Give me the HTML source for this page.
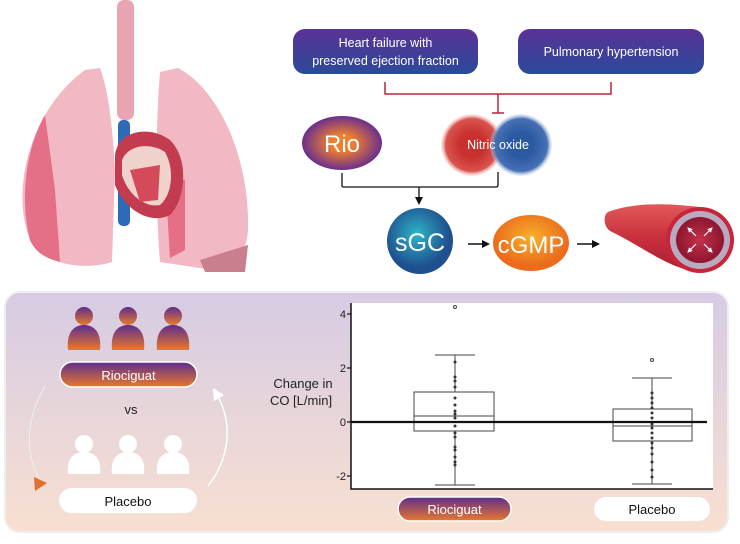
<!DOCTYPE html>
<html><head><meta charset="utf-8"><style>
body{margin:0;width:740px;height:539px;background:#fff;overflow:hidden;font-family:"Liberation Sans","DejaVu Sans",sans-serif}
</style></head><body>
<svg width="740" height="539" viewBox="0 0 740 539" xmlns="http://www.w3.org/2000/svg">
<defs>
<linearGradient id="panel" x1="0" y1="0" x2="0" y2="1"><stop offset="0" stop-color="#d6cbe4"/><stop offset="1" stop-color="#f8dfd0"/></linearGradient>
<linearGradient id="navy" x1="0" y1="0" x2="0" y2="1"><stop offset="0" stop-color="#5a3296"/><stop offset="1" stop-color="#2a4a9a"/></linearGradient>
<linearGradient id="po" x1="0" y1="0" x2="0" y2="1"><stop offset="0" stop-color="#5e2d8c"/><stop offset="1" stop-color="#e8792e"/></linearGradient>
<radialGradient id="rio"><stop offset="0.3" stop-color="#ee7f2e"/><stop offset="1" stop-color="#6b2f8e"/></radialGradient>
<radialGradient id="red"><stop offset="0.4" stop-color="#c8312e"/><stop offset="0.85" stop-color="#d9534e"/><stop offset="1" stop-color="#f3c7c2" stop-opacity="0.3"/></radialGradient>
<radialGradient id="blue"><stop offset="0.4" stop-color="#2c5aa2"/><stop offset="0.85" stop-color="#4670b4"/><stop offset="1" stop-color="#c6d3ea" stop-opacity="0.3"/></radialGradient>
<radialGradient id="sgc" cx="0.45" cy="0.4"><stop offset="0" stop-color="#2fb4c8"/><stop offset="1" stop-color="#1e4f8e"/></radialGradient>
<radialGradient id="cgmp" cx="0.5" cy="0.4"><stop offset="0" stop-color="#f7b12b"/><stop offset="1" stop-color="#ec6b1c"/></radialGradient>
<radialGradient id="lumen"><stop offset="0" stop-color="#c4314a"/><stop offset="1" stop-color="#8d1530"/></radialGradient>
<linearGradient id="tube" x1="0" y1="0" x2="0" y2="1"><stop offset="0" stop-color="#e05a5a"/><stop offset="0.5" stop-color="#c82f3c"/><stop offset="1" stop-color="#a81f30"/></linearGradient>
<marker id="ah" markerWidth="8" markerHeight="8" refX="6" refY="4" orient="auto" markerUnits="userSpaceOnUse"><path d="M0,0 L8,4 L0,8z" fill="#111"/></marker>
<marker id="sw" markerWidth="5" markerHeight="5" refX="4" refY="2.5" orient="auto" markerUnits="userSpaceOnUse"><path d="M0,0 L5,2.5 L0,5z" fill="#fff"/></marker>
<marker id="wh" markerWidth="12" markerHeight="12" refX="6" refY="6" orient="auto" markerUnits="userSpaceOnUse"><path d="M0,0 L12,6 L0,12z" fill="#fff"/></marker>
</defs>

<!-- lungs -->
<g>
<rect x="117" y="0" width="17" height="120" rx="7" fill="#eaa3b0"/>
<path d="M30,240 C10,190 30,110 85,70 L100,68 C108,90 112,120 115,170 L112,262 C80,272 40,262 30,240z" fill="#f2b8c4"/>
<path d="M30,240 C20,200 25,150 45,115 L55,190 L60,262 C45,258 35,252 30,240z" fill="#e56f86"/>
<path d="M160,72 L178,68 C220,90 250,160 248,230 C246,265 220,272 200,268 L160,262 C155,200 156,120 160,72z" fill="#f2b8c4"/>
<path d="M165,175 L185,180 L185,250 L170,258z" fill="#e56f86"/>
<path d="M200,260 L248,245 L245,272 L205,272z" fill="#c97f8e"/>
<rect x="118" y="120" width="12" height="106" rx="5" fill="#2d6bb8"/>
<path d="M115,155 C118,130 150,125 170,140 C190,160 185,200 170,215 C150,225 125,210 115,185z" fill="#c33b4e"/>
<path d="M122,160 C128,145 150,142 165,152 C175,170 172,195 160,205 C145,208 128,195 122,175z" fill="#f0d2cd"/>
<path d="M130,170 L160,165 L158,200 L140,202z" fill="#d44a5b"/>
</g>

<!-- top boxes -->
<rect x="293" y="29" width="185" height="45" rx="12" fill="url(#navy)"/>
<text x="385.5" y="47" font-size="12.5" fill="#fff" text-anchor="middle">Heart failure with</text>
<text x="385.5" y="65" font-size="12.5" fill="#fff" text-anchor="middle">preserved ejection fraction</text>
<rect x="518" y="29" width="186" height="45" rx="12" fill="url(#navy)"/>
<text x="611" y="56" font-size="12.5" fill="#fff" text-anchor="middle">Pulmonary hypertension</text>
<path d="M385,82 V94 H611 V82 M498,94 V113 M492,113 H504" fill="none" stroke="#b52a36" stroke-width="1.5"/>

<ellipse cx="342" cy="143" rx="40" ry="27" fill="url(#rio)"/>
<text x="342" y="152" font-size="24" fill="#fff" text-anchor="middle">Rio</text>
<circle cx="472" cy="145" r="31" fill="url(#red)"/>
<circle cx="521" cy="145" r="31" fill="url(#blue)"/>
<text x="498" y="149" font-size="12.5" fill="#fff" text-anchor="middle">Nitric oxide</text>
<path d="M342,173 V186 Q342,187 344,187 H496 Q498,187 498,185 V172 M419,187 V203" fill="none" stroke="#111" stroke-width="1.3" marker-end="url(#ah)"/>

<circle cx="420" cy="241" r="33" fill="url(#sgc)"/>
<text x="420" y="251" font-size="25" fill="#fff" text-anchor="middle">sGC</text>
<line x1="468" y1="244" x2="488" y2="244" stroke="#111" stroke-width="1.5" marker-end="url(#ah)"/>
<ellipse cx="531" cy="243" rx="38" ry="28" fill="url(#cgmp)"/>
<text x="531" y="253" font-size="24" fill="#fff" text-anchor="middle">cGMP</text>
<line x1="577" y1="244" x2="598" y2="244" stroke="#111" stroke-width="1.5" marker-end="url(#ah)"/>

<!-- vessel -->
<path d="M608,212 C640,200 680,205 700,207 L700,272 C670,270 640,245 612,232 C603,228 603,215 608,212z" fill="url(#tube)"/>
<ellipse cx="700" cy="240" rx="34" ry="33" fill="#c9243a"/>
<ellipse cx="700" cy="240" rx="30" ry="29" fill="#b9aac0"/>
<ellipse cx="700" cy="240" rx="24" ry="23" fill="url(#lumen)"/>
<g stroke="#fff" stroke-width="1.2" marker-end="url(#sw)">
<line x1="696" y1="236" x2="688" y2="228"/><line x1="704" y1="236" x2="712" y2="228"/>
<line x1="696" y1="244" x2="688" y2="252"/><line x1="704" y1="244" x2="712" y2="252"/>
</g>

<!-- bottom panel -->
<rect x="5" y="292" width="723" height="240" rx="15" fill="url(#panel)" stroke="#eee" stroke-width="2"/>
<g fill="url(#po)">
<circle cx="84" cy="316" r="9"/><path d="M68,350 C66,330 76,325 84,325 C92,325 102,330 100,350z"/>
<circle cx="128" cy="316" r="9"/><path d="M112,350 C110,330 120,325 128,325 C136,325 146,330 144,350z"/>
<circle cx="173" cy="316" r="9"/><path d="M157,350 C155,330 165,325 173,325 C181,325 191,330 189,350z"/>
</g>
<g fill="#fff">
<circle cx="84" cy="444" r="9"/><path d="M68,474 C66,456 76,452 84,452 C92,452 102,456 100,474z"/>
<circle cx="128" cy="444" r="9"/><path d="M112,474 C110,456 120,452 128,452 C136,452 146,456 144,474z"/>
<circle cx="173" cy="444" r="9"/><path d="M157,474 C155,456 165,452 173,452 C181,452 191,456 189,474z"/>
</g>
<rect x="60" y="362" width="137" height="25" rx="12.5" fill="url(#po)" stroke="#fff" stroke-width="1.5"/>
<text x="128.5" y="380" font-size="13" fill="#fff" text-anchor="middle">Riociguat</text>
<text x="131" y="414" font-size="13" fill="#222" text-anchor="middle">vs</text>
<rect x="59" y="488" width="138" height="25" rx="12.5" fill="#fff"/>
<text x="128" y="506" font-size="13" fill="#111" text-anchor="middle">Placebo</text>
<path d="M45,386 C25,420 25,455 40,480" fill="none" stroke="#eee" stroke-width="1"/>
<path d="M34,477 L47,483 L35,491z" fill="#e0702a"/>
<path d="M208,486 C232,455 232,420 216,393" fill="none" stroke="#fff" stroke-width="1.5" marker-end="url(#wh)"/>

<!-- chart -->
<rect x="351" y="303" width="362" height="186" fill="#fff"/>
<text x="303" y="388" font-size="13" fill="#222" text-anchor="middle">Change in</text>
<text x="301" y="405" font-size="13" fill="#222" text-anchor="middle">CO [L/min]</text>
<g font-size="11" fill="#222" text-anchor="end">
<text x="346" y="318">4</text><text x="346" y="372">2</text><text x="346" y="426">0</text><text x="346" y="480">-2</text>
</g>
<g stroke="#111" stroke-width="1.2">
<line x1="347" y1="314" x2="351" y2="314"/><line x1="347" y1="368" x2="351" y2="368"/><line x1="347" y1="422" x2="351" y2="422"/><line x1="347" y1="476" x2="351" y2="476"/>
</g>
<path d="M351,303 V489 H713" fill="none" stroke="#111" stroke-width="1.5"/>
<g stroke="#444" stroke-width="1" fill="none">
<rect x="414" y="392" width="80" height="39"/><line x1="414" y1="416" x2="494" y2="416"/>
<line x1="455" y1="355" x2="455" y2="392"/><line x1="455" y1="431" x2="455" y2="485"/>
<line x1="435" y1="355" x2="475" y2="355"/><line x1="435" y1="485" x2="475" y2="485"/>
<circle cx="455" cy="307" r="1.5"/>
<rect x="613" y="409" width="79" height="32"/><line x1="613" y1="426" x2="692" y2="426"/>
<line x1="652" y1="378" x2="652" y2="409"/><line x1="652" y1="441" x2="652" y2="484"/>
<line x1="632" y1="378" x2="672" y2="378"/><line x1="632" y1="484" x2="672" y2="484"/>
<circle cx="652" cy="360" r="1.5"/>
</g>
<g fill="#333">
<circle cx="455" cy="362" r="1.5"/><circle cx="455" cy="377" r="1.5"/><circle cx="455" cy="381" r="1.5"/><circle cx="455" cy="387" r="1.5"/><circle cx="455" cy="398" r="1.5"/><circle cx="455" cy="405" r="1.5"/><circle cx="455" cy="411" r="1.5"/><circle cx="455" cy="414" r="1.5"/><circle cx="455" cy="418" r="1.5"/><circle cx="455" cy="426" r="1.5"/><circle cx="455" cy="433" r="1.5"/><circle cx="455" cy="437" r="1.5"/><circle cx="455" cy="447" r="1.5"/><circle cx="455" cy="450" r="1.5"/><circle cx="455" cy="457" r="1.5"/><circle cx="455" cy="462" r="1.5"/><circle cx="455" cy="465" r="1.5"/>
<circle cx="652" cy="393" r="1.5"/><circle cx="652" cy="398" r="1.5"/><circle cx="652" cy="403" r="1.5"/><circle cx="652" cy="408" r="1.5"/><circle cx="652" cy="413" r="1.5"/><circle cx="652" cy="418" r="1.5"/><circle cx="652" cy="424" r="1.5"/><circle cx="652" cy="428" r="1.5"/><circle cx="652" cy="433" r="1.5"/><circle cx="652" cy="438" r="1.5"/><circle cx="652" cy="443" r="1.5"/><circle cx="652" cy="448" r="1.5"/><circle cx="652" cy="454" r="1.5"/><circle cx="652" cy="462" r="1.5"/><circle cx="652" cy="470" r="1.5"/><circle cx="652" cy="477" r="1.5"/>
</g>
<line x1="351" y1="422" x2="707" y2="422" stroke="#111" stroke-width="2.2"/>
<rect x="398" y="497" width="113" height="24" rx="12" fill="url(#po)" stroke="#fff" stroke-width="1.5"/>
<text x="454.5" y="514" font-size="13" fill="#fff" text-anchor="middle">Riociguat</text>
<rect x="594" y="497" width="116" height="24" rx="12" fill="#fff"/>
<text x="652" y="514" font-size="13" fill="#111" text-anchor="middle">Placebo</text>
</svg>
</body></html>
